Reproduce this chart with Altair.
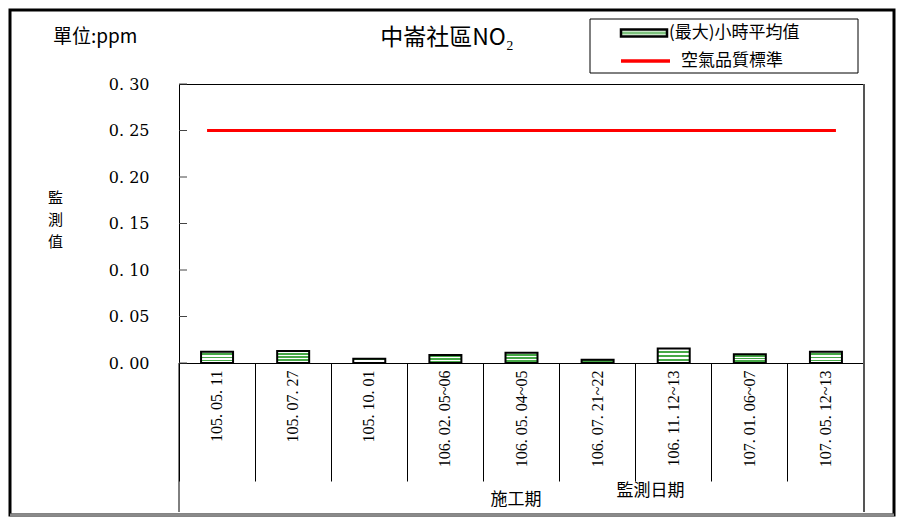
import altair as alt
import pandas as pd

# ---- data ----
dates = ["105. 05. 11", "105. 07. 27", "105. 10. 01", "106. 02. 05~06", "106. 05. 04~05",
         "106. 07. 21~22", "106. 11. 12~13", "107. 01. 06~07", "107. 05. 12~13"]
values = [0.012, 0.013, 0.0045, 0.0085, 0.011, 0.0035, 0.0155, 0.0095, 0.012]
standard_value = [0.25]
y_ticks = [0.0, 0.05, 0.10, 0.15, 0.20, 0.25, 0.30]
series_bar = "(最大)小時平均值"
series_std = "空氣品質標準"
title_text = "中崙社區NO₂"
unit_text = "單位:ppm"
x_title = "監測日期"
period_text = "施工期"
y_title = ["監", "測", "值"]

W, H = 685, 279
CJK = "Noto Sans CJK TC"

bar_df = pd.DataFrame({"date": dates, "value": values})
std_df = pd.DataFrame({"date": [dates[0]], "date_end": [dates[-1]],
                       "value": standard_value, "series": [series_std]})
tick_df = pd.DataFrame({"value": y_ticks})
one = pd.DataFrame({"a": [0]})

xscale = alt.Scale(domain=dates, paddingInner=0, paddingOuter=0)
yscale = alt.Scale(domain=[0, 0.3], nice=False, zero=True)

G = "#46a846"
stripes = alt.LinearGradient(
    gradient="linear", x1=0, x2=0, y1=0, y2=1,
    stops=[
        alt.GradientStop(offset=0.0, color="white"),
        alt.GradientStop(offset=0.14, color="white"),
        alt.GradientStop(offset=0.14, color=G),
        alt.GradientStop(offset=0.30, color=G),
        alt.GradientStop(offset=0.30, color="white"),
        alt.GradientStop(offset=0.42, color="white"),
        alt.GradientStop(offset=0.42, color=G),
        alt.GradientStop(offset=0.58, color=G),
        alt.GradientStop(offset=0.58, color="white"),
        alt.GradientStop(offset=0.70, color="white"),
        alt.GradientStop(offset=0.70, color=G),
        alt.GradientStop(offset=0.86, color=G),
        alt.GradientStop(offset=0.86, color="white"),
        alt.GradientStop(offset=1.0, color="white"),
    ],
)
legend_fill = alt.LinearGradient(
    gradient="linear", x1=0, x2=0, y1=0, y2=1,
    stops=[
        alt.GradientStop(offset=0.0, color="white"),
        alt.GradientStop(offset=0.25, color="#d8f0d8"),
        alt.GradientStop(offset=0.5, color="#58b058"),
        alt.GradientStop(offset=0.75, color="#d8f0d8"),
        alt.GradientStop(offset=1.0, color="white"),
    ],
)

x_axis = alt.Axis(
    title=x_title, titleFont=CJK, titleFontSize=17, titleFontWeight="normal",
    titleX=471, titleY=127, titleAlign="center", titleBaseline="middle", titleColor="black",
    labelAngle=270, labelAlign="right", labelBaseline="middle", labelPadding=-111,
    labelFont="Liberation Serif", labelFontSize=16, labelColor="black", labelOverlap=False,
    tickSize=118, bandPosition=0, tickColor="black", tickWidth=1, domain=False, grid=False,
)
y_axis = alt.Axis(
    title=y_title, titleFont=CJK, titleFontSize=15, titleFontWeight="normal",
    titleAngle=0, titleX=-124, titleY=106, titleAlign="center", titleBaseline="top",
    titleLineHeight=22, titleColor="black",
    values=y_ticks, labelExpr="replace(format(datum.value, '.2f'), '.', '. ')",
    labelFont="DejaVu Serif", labelFontSize=16, labelColor="black", labelPadding=30,
    ticks=False, domain=False, grid=False,
)

frame = alt.Chart(one).mark_rect(filled=False, stroke="black", strokeWidth=3).encode(
    x=alt.value(-169), x2=alt.value(715), y=alt.value(-74), y2=alt.value(431))
frame_bottom = alt.Chart(one).mark_rule(stroke="#8a8a8a", strokeWidth=3).encode(
    x=alt.value(-169), x2=alt.value(715), y=alt.value(431))
legend_box = alt.Chart(one).mark_rect(fill="white", stroke="black", strokeWidth=1).encode(
    x=alt.value(411), x2=alt.value(679), y=alt.value(-65), y2=alt.value(-11))
legend_sym = alt.Chart(one).mark_rect(fill=legend_fill, stroke="black", strokeWidth=2.5).encode(
    x=alt.value(442), x2=alt.value(488), y=alt.value(-54.5), y2=alt.value(-47.5))
legend_lbl = alt.Chart(one).mark_text(font=CJK, fontSize=17, color="black", align="left",
                                      baseline="middle").encode(
    x=alt.value(490), y=alt.value(-51), text=alt.value(series_bar))
left_ext = alt.Chart(one).mark_rule(stroke="black", strokeWidth=1).encode(
    x=alt.value(0), y=alt.value(H), y2=alt.value(428))
right_ext = alt.Chart(one).mark_rule(stroke="#555555", strokeWidth=2).encode(
    x=alt.value(W), y=alt.value(0), y2=alt.value(428))

bars = alt.Chart(bar_df).mark_bar(size=32, fill=stripes, stroke="black", strokeWidth=2).encode(
    x=alt.X("date:N", scale=xscale, axis=x_axis),
    y=alt.Y("value:Q", scale=yscale, axis=y_axis),
)

std_rule = alt.Chart(std_df).mark_rule(strokeWidth=3, xOffset=-10, x2Offset=10).encode(
    x=alt.X("date:N", scale=xscale),
    x2="date_end:N",
    y=alt.Y("value:Q", scale=yscale),
    stroke=alt.Stroke("series:N", scale=alt.Scale(range=["#ff0000"]), legend=alt.Legend(
        orient="none", legendX=440, legendY=-49.5, title=None, padding=0,
        symbolType="stroke", symbolSize=2401, symbolStrokeWidth=3.5,
        labelFont=CJK, labelFontSize=17, labelColor="black", labelOffset=9)),
)

yticks = alt.Chart(tick_df).mark_rule(stroke="#444444", strokeWidth=1).encode(
    y=alt.Y("value:Q", scale=yscale), x=alt.value(0), x2=alt.value(8))

title_mark = alt.Chart(one).mark_text(font=CJK, fontSize=23, color="black", align="center",
                                      baseline="middle").encode(
    x=alt.value(268), y=alt.value(-46), text=alt.value(title_text))
unit_mark = alt.Chart(one).mark_text(font=CJK, fontSize=19, color="black", align="left",
                                     baseline="middle").encode(
    x=alt.value(-126), y=alt.value(-47), text=alt.value(unit_text))
period_mark = alt.Chart(one).mark_text(font=CJK, fontSize=17, color="black", align="center",
                                       baseline="middle").encode(
    x=alt.value(337), y=alt.value(416), text=alt.value(period_text))

chart = alt.layer(
    frame, frame_bottom, legend_box, legend_sym, legend_lbl, left_ext, right_ext,
    bars, std_rule, yticks, title_mark, unit_mark, period_mark,
).properties(
    width=W, height=H,
    autosize=alt.AutoSizeParams(type="none"),
    padding={"left": 171, "top": 76, "right": 32, "bottom": 155},
    background="white",
).configure_view(
    stroke="black", strokeWidth=1,
)

chart.save("out.html", embed_options={"renderer": "svg", "actions": False})
